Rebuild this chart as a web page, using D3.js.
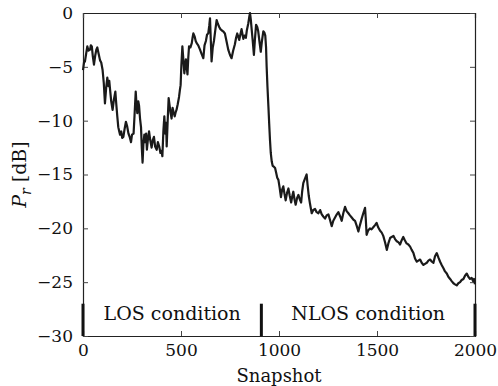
<!DOCTYPE html>
<html>
<head>
<meta charset="utf-8">
<script src="https://cdn.jsdelivr.net/npm/d3@7"></script>
<style>
  body { margin: 0; background: #fff; }
  text { font-family: "DejaVu Serif", serif; fill: #111; }
</style>
</head>
<body>
<div id="chart"></div>
<script>
// received power vs snapshot
var snapshot = [0,5,10,16,22,28,36,40,45,50,56,62,68,73,80,87,93,100,106,112,118,124,130,134,138,144,151,158,165,170,175,180,185,189,195,200,206,212,219,225,232,238,245,250,258,263,269,273,277,282,286,291,296,300,304,308,313,318,322,326,332,337,343,350,356,362,368,376,382,389,395,400,405,410,415,420,424,427,432,437,442,447,452,457,462,468,473,477,483,490,494,498,502,507,512,517,521,525,529,533,537,541,548,555,559,563,570,575,580,588,597,605,614,620,627,633,639,644,648,652,656,662,668,675,682,688,695,701,707,715,724,732,741,750,758,766,775,781,787,792,797,803,809,814,818,824,831,836,843,848,852,856,860,866,872,877,883,889,894,900,907,913,920,925,930,934,937,941,946,950,954,958,963,968,975,980,985,991,997,1003,1010,1016,1022,1028,1034,1041,1048,1055,1062,1068,1073,1079,1085,1092,1099,1106,1113,1118,1124,1132,1141,1146,1152,1158,1163,1167,1175,1184,1192,1201,1210,1218,1226,1235,1243,1252,1260,1269,1277,1286,1295,1303,1312,1320,1328,1337,1345,1354,1362,1371,1380,1388,1397,1405,1413,1422,1430,1439,1443,1447,1455,1464,1472,1481,1490,1498,1506,1515,1524,1532,1541,1550,1558,1567,1575,1584,1592,1601,1610,1618,1626,1634,1642,1651,1660,1669,1677,1686,1694,1703,1711,1720,1728,1737,1745,1754,1762,1771,1780,1788,1796,1805,1813,1822,1830,1839,1847,1856,1864,1873,1881,1890,1898,1907,1915,1924,1932,1941,1949,1958,1966,1975,1983,1990,1995,2000];
var power = [-5.3,-4.6,-4.5,-3.8,-3.1,-3.5,-3.4,-3.0,-3.1,-4.0,-4.8,-4.0,-3.4,-3.2,-3.8,-4.4,-4.6,-5.3,-6.5,-8.4,-7.0,-6.0,-6.8,-6.3,-7.1,-8.2,-9.0,-8.0,-7.3,-8.5,-9.6,-10.6,-11.0,-11.3,-11.0,-11.6,-11.5,-10.8,-10.1,-10.5,-11.2,-11.5,-12.0,-11.3,-11.2,-9.5,-7.3,-8.5,-9.3,-8.2,-8.6,-9.8,-10.6,-12.5,-13.9,-12.2,-11.3,-12.0,-11.2,-12.7,-11.6,-11.0,-11.8,-12.5,-11.8,-11.5,-12.4,-12.7,-12.0,-12.4,-13.0,-12.8,-13.3,-11.0,-9.6,-11.2,-10.2,-12.4,-10.0,-7.9,-8.6,-9.3,-9.8,-8.8,-9.2,-9.6,-9.2,-9.0,-8.5,-7.8,-7.2,-6.7,-4.8,-3.1,-4.3,-5.6,-4.9,-4.3,-5.0,-5.7,-4.2,-3.1,-3.2,-2.8,-2.3,-1.9,-2.2,-2.6,-2.8,-3.0,-3.4,-3.8,-4.2,-3.0,-2.6,-2.0,-1.9,-1.2,-0.5,-2.5,-4.5,-3.2,-2.6,-1.6,-0.65,-1.0,-1.3,-1.5,-1.6,-1.7,-1.9,-2.6,-3.4,-3.9,-4.2,-3.5,-2.9,-2.3,-1.9,-2.2,-2.5,-2.0,-1.5,-2.0,-2.4,-2.1,-2.3,-1.6,-1.0,-0.4,0,-0.6,-1.4,-2.6,-3.9,-2.5,-1.1,-1.3,-1.7,-2.6,-3.6,-2.6,-1.7,-1.8,-2.1,-3.2,-5.0,-6.8,-8.7,-10.3,-11.8,-13.0,-13.8,-14.2,-14.3,-14.4,-14.8,-15.3,-15.5,-16.2,-17.1,-16.4,-16.1,-16.8,-17.4,-16.7,-16.3,-17.0,-17.6,-17.0,-16.6,-17.3,-17.8,-17.2,-16.9,-17.3,-17.6,-16.6,-15.8,-15.4,-15.0,-16.0,-17.0,-17.7,-18.2,-18.6,-18.3,-18.2,-18.5,-18.6,-18.3,-18.7,-18.9,-19.1,-18.8,-18.7,-19.2,-19.8,-19.3,-19.0,-18.7,-18.5,-18.9,-19.3,-18.6,-18.0,-18.4,-18.6,-18.8,-19.0,-19.2,-19.3,-19.8,-20.3,-19.7,-19.1,-18.6,-18.1,-19.2,-20.6,-20.2,-20.0,-20.1,-19.9,-19.7,-19.5,-19.9,-20.2,-20.4,-20.7,-21.3,-22.0,-21.4,-20.9,-20.8,-20.7,-21.0,-21.2,-21.3,-21.5,-21.1,-20.8,-21.1,-21.4,-21.5,-21.7,-22.0,-22.3,-22.8,-23.1,-23.0,-22.9,-23.2,-23.4,-23.3,-23.2,-23.0,-22.9,-23.1,-23.2,-22.6,-22.3,-22.7,-23.1,-23.4,-23.7,-24.0,-24.2,-24.5,-24.7,-24.9,-25.1,-25.2,-25.3,-25.1,-25.0,-24.8,-24.7,-24.4,-24.2,-24.5,-24.7,-24.6,-24.9,-24.7,-25.2];

var xTicks = [0, 500, 1000, 1500, 2000];
var yTicks = [0, -5, -10, -15, -20, -25, -30];
var markerPos = [0, 910, 2000];
var conditions = ["LOS condition", "NLOS condition"];

function init(){
    var W = 498, H = 386;
    var margin = {left: 83, top: 13, right: 23, bottom: 50};
    var w = W - margin.left - margin.right;
    var h = H - margin.top - margin.bottom;
    var fontFam = "'DejaVu Serif', serif";

    var data = snapshot.map(function(s, i){ return {s: s, p: power[i]}; });

    var xScale = d3.scaleLinear().domain([0, 2000]).range([0, w]);
    var yScale = d3.scaleLinear().domain([-30, 0]).range([h, 0]);

    var svg = d3.select("#chart").append("svg")
        .attr("width", W)
        .attr("height", H);

    var g = svg.append("g")
        .attr("transform", "translate(" + margin.left + "," + margin.top + ")");

    var fmt = d3.format("d");

    // axes, ticks pointing inward
    var xAxis = d3.axisBottom(xScale).tickValues(xTicks).tickSize(-5).tickPadding(8).tickFormat(fmt);
    var yAxis = d3.axisLeft(yScale).tickValues(yTicks).tickSize(-5).tickPadding(10).tickFormat(fmt);
    var xTop = d3.axisTop(xScale).tickValues(xTicks).tickSize(-5).tickFormat("");
    var yRight = d3.axisRight(yScale).tickValues(yTicks).tickSize(-5).tickFormat("");

    g.append("g").attr("transform", "translate(0," + h + ")").call(xAxis);
    g.append("g").call(yAxis);
    g.append("g").call(xTop);
    g.append("g").attr("transform", "translate(" + w + ",0)").call(yRight);

    g.selectAll(".domain").attr("stroke", "#222").attr("stroke-width", 1.2);
    g.selectAll(".tick line").attr("stroke", "#444");
    g.selectAll(".tick text").style("font-size", "17px")
        .style("font-family", fontFam).attr("fill", "#111");

    var line = d3.line()
        .x(function(d){ return xScale(d.s); })
        .y(function(d){ return yScale(d.p); });

    g.append("path")
        .datum(data)
        .attr("fill", "none")
        .attr("stroke", "#1a1a1a")
        .attr("stroke-width", 2.2)
        .attr("stroke-linejoin", "round")
        .attr("d", line);

    // condition separators
    g.selectAll(".marker")
        .data(markerPos)
        .enter().append("line")
        .attr("x1", function(d){ return xScale(d); })
        .attr("x2", function(d){ return xScale(d); })
        .attr("y1", yScale(-27))
        .attr("y2", yScale(-30))
        .attr("stroke", "#111")
        .attr("stroke-width", 3);

    g.selectAll(".cond")
        .data(conditions)
        .enter().append("text")
        .attr("x", function(d, i){ return xScale((markerPos[i] + markerPos[i+1]) / 2); })
        .attr("y", yScale(-28.5))
        .attr("text-anchor", "middle")
        .style("font-size", "19px")
        .style("font-family", fontFam)
        .text(function(d){ return d; });

    svg.append("text")
        .attr("x", margin.left + w / 2)
        .attr("y", 382)
        .attr("text-anchor", "middle")
        .style("font-size", "18px")
        .style("font-family", fontFam)
        .text("Snapshot");

    var ylab = svg.append("text")
        .attr("transform", "translate(26," + (margin.top + h / 2) + ") rotate(-90)")
        .attr("text-anchor", "middle")
        .style("font-size", "19px")
        .style("font-family", fontFam);
    ylab.append("tspan").style("font-style", "italic").text("P");
    ylab.append("tspan").attr("dy", 5).style("font-size", "14px").style("font-style", "italic").text("r");
    ylab.append("tspan").attr("dy", -5).text(" [dB]");
}

window.onload = init;
</script>
</body>
</html>
